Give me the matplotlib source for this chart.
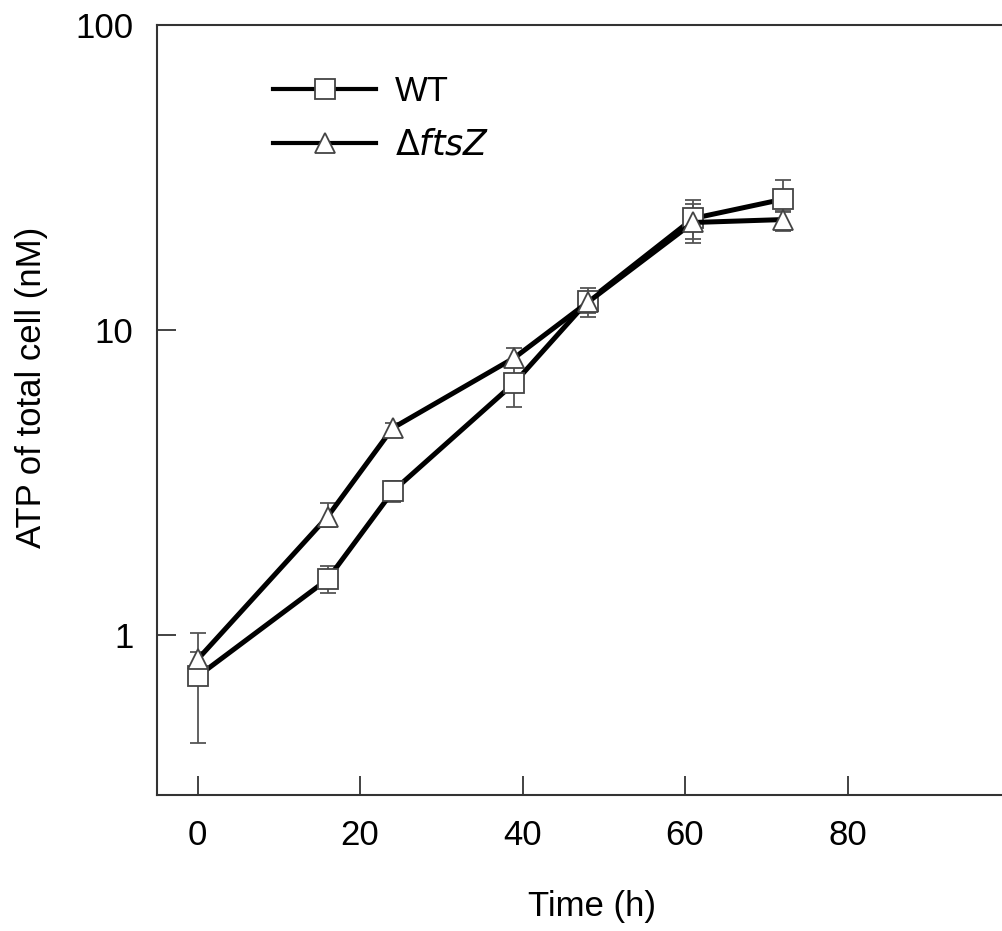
import matplotlib
matplotlib.use("Agg")
import matplotlib.pyplot as plt
import numpy as np

# time points (h)
time_h = [0, 16, 24, 39, 48, 61, 72]
# WT
wt_mean = [0.73, 1.52, 2.95, 6.7, 12.4, 23.2, 26.8]
wt_err_low = [0.29, 0.15, 0.23, 1.1, 1.4, 3.9, 2.5]
wt_err_up = [0.15, 0.16, 0.24, 0.9, 1.3, 3.4, 4.3]
# delta ftsZ
fts_mean = [0.83, 2.44, 4.76, 8.1, 12.3, 22.5, 23.0]
fts_err_low = [0.1, 0.19, 0.2, 0.5, 0.9, 2.6, 1.9]
fts_err_up = [0.18, 0.26, 0.2, 0.65, 0.9, 3.3, 1.5]

x_ticks = [0, 20, 40, 60, 80]
y_ticks = [1, 10, 100]

plt.rcParams['font.family'] = ['Liberation Sans', 'DejaVu Sans']

fig = plt.figure(figsize=(10.03, 9.31), dpi=100)
ax = fig.add_axes([157 / 1003, 1 - 795 / 931, 853 / 1003, 770 / 931])

err_col = '#555555'
for mean, lo, up, mk, lab in [(wt_mean, wt_err_low, wt_err_up, 's', 'WT'),
                               (fts_mean, fts_err_low, fts_err_up, '^', r'$\Delta$$\it{ftsZ}$')]:
    ax.errorbar(time_h, mean, yerr=[lo, up], fmt='none', ecolor=err_col,
                elinewidth=1.3, capsize=6, capthick=1.3, zorder=1)
    ax.plot(time_h, mean, '-', color='black', lw=3.6, marker=mk, markersize=15,
            markerfacecolor='white', markeredgecolor='#444444', markeredgewidth=1.3,
            label=lab, zorder=2)

ax.set_yscale('log')
ax.set_ylim(0.298, 100)
ax.set_xlim(-5, 100)
ax.set_xticks(x_ticks)
ax.set_xticklabels([str(v) for v in x_ticks])
ax.set_yticks(y_ticks)
ax.set_yticklabels(['1', '10', '100'])
ax.yaxis.set_minor_locator(matplotlib.ticker.NullLocator())
ax.tick_params(direction='in', length=14, width=1.2, color='#222222',
               labelsize=25, pad=17)
for s in ax.spines.values():
    s.set_linewidth(1.5)
    s.set_color('#333333')
ax.spines['right'].set_visible(False)

ax.set_xlabel('Time (h)', fontsize=25, va='top')
ax.xaxis.set_label_coords(0.51, -0.1234)
ax.set_ylabel('ATP of total cell (nM)', fontsize=25)
ax.yaxis.set_label_coords(-0.1278, 0.53)

leg = ax.legend(loc='upper left', bbox_to_anchor=(0.136, 0.935), frameon=False,
                fontsize=25, handlelength=2.97, handletextpad=0.55,
                labelspacing=0.6, borderpad=0, borderaxespad=0)
for h in leg.get_lines():
    h.set_linewidth(3.0)

fig.savefig('out.png', dpi=100)
